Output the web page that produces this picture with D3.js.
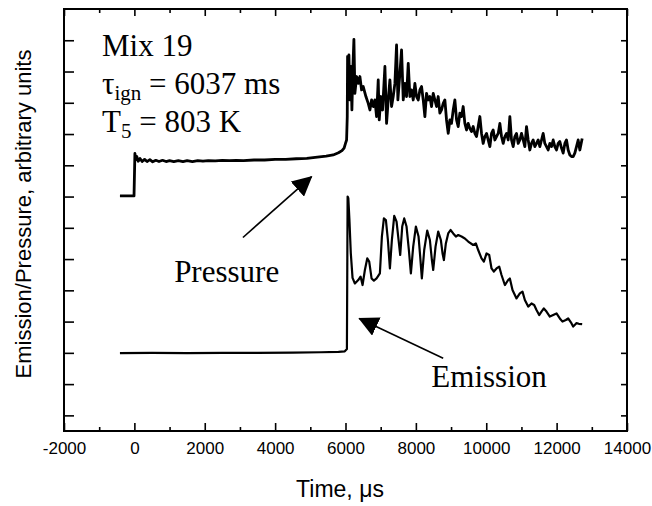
<!DOCTYPE html>
<html>
<head>
<meta charset="utf-8">
<script src="https://cdn.jsdelivr.net/npm/d3@7"></script>
<style>
  html, body { margin: 0; padding: 0; background: #fff; }
  svg { display: block; }
</style>
</head>
<body>
<svg id="chart" width="652" height="506"></svg>
<script>
// ---------- data ----------
const xMajorTicks = [-2000, 0, 2000, 4000, 6000, 8000, 10000, 12000, 14000];
const xMinorTicks = [-1000, 1000, 3000, 5000, 7000, 9000, 11000, 13000];
const yTicks = [0, 1, 2, 3, 4, 5, 6, 7, 8, 9, 10, 11, 12];

const pressureTime = [
  -410, -10, 15, 40, 70, 110, 160, 220, 290, 360, 440, 520, 610, 700, 800, 900, 1000, 1120, 1250, 1380,
  1500, 1650, 1800, 1950, 2100, 2300, 2500, 2700, 2900, 3100, 3400, 3700, 4000, 4300, 4600, 4900, 5200,
  5450, 5650, 5800, 5900, 5960, 6000, 6031, 6050, 6059, 6078, 6097, 6125, 6154, 6182, 6211, 6239, 6267,
  6315, 6362, 6409, 6457, 6504, 6580, 6646, 6694, 6741, 6788, 6836, 6883, 6930, 6959, 7006, 7053, 7120,
  7167, 7214, 7262, 7309, 7356, 7404, 7451, 7489, 7546, 7593, 7641, 7688, 7735, 7783, 7830, 7877, 7925,
  7972, 8019, 8067, 8114, 8161, 8209, 8256, 8303, 8351, 8398, 8445, 8493, 8540, 8587, 8635, 8682, 8729,
  8777, 8824, 8871, 8919, 8966, 9013, 9061, 9108, 9156, 9203, 9250, 9298, 9345, 9392, 9440, 9487, 9534,
  9582, 9629, 9677, 9724, 9771, 9819, 9866, 9913, 9961, 10008, 10055, 10103, 10150, 10197, 10245, 10292,
  10340, 10387, 10434, 10482, 10529, 10576, 10624, 10671, 10718, 10766, 10813, 10860, 10908, 10955, 11002,
  11050, 11097, 11144, 11192, 11239, 11286, 11334, 11381, 11429, 11476, 11523, 11571, 11618, 11665, 11713,
  11760, 11807, 11855, 11902, 11949, 11997, 12044, 12091, 12139, 12186, 12234, 12281, 12328, 12376, 12423,
  12470, 12517, 12565, 12612, 12660, 12726
];
const pressureValue = [
  7.02, 7.02, 8.38, 8.18, 8.28, 8.13, 8.22, 8.12, 8.19, 8.12, 8.18, 8.11, 8.16, 8.12, 8.16, 8.12, 8.15, 8.12, 8.15, 8.12,
  8.15, 8.12, 8.15, 8.13, 8.15, 8.14, 8.16, 8.15, 8.16, 8.15, 8.17, 8.17, 8.19, 8.19, 8.21, 8.22, 8.26,
  8.29, 8.33, 8.40, 8.47, 8.55, 8.70, 8.81, 9.56, 11.48, 10.10, 11.53, 10.09, 11.16, 9.77, 11.16, 12.03, 10.30,
  10.84, 10.62, 10.84, 10.41, 10.52, 10.20, 9.98, 9.77, 10.09, 9.88, 10.09, 9.56, 10.73, 9.45, 10.20, 9.77, 11.16,
  9.34, 10.09, 10.73, 9.88, 10.20, 10.62, 11.85, 10.09, 10.94, 11.69, 10.09, 10.62, 10.20, 11.26, 10.20, 10.41, 10.09,
  10.62, 10.20, 10.09, 10.41, 10.52, 10.09, 9.56, 10.30, 10.09, 10.20, 9.88, 10.30, 10.09, 9.88, 10.20, 9.67, 9.77,
  9.98, 10.09, 9.45, 9.02, 9.45, 9.34, 9.77, 10.09, 9.45, 9.24, 9.67, 9.56, 9.88, 9.34, 9.13, 9.34, 9.18,
  9.08, 9.24, 9.02, 8.92, 9.24, 9.56, 9.02, 8.70, 8.92, 9.02, 8.81, 8.60, 9.02, 9.13, 8.81, 8.92,
  9.02, 9.34, 8.92, 8.70, 8.92, 9.02, 8.81, 9.56, 8.81, 8.60, 8.92, 9.02, 8.70, 8.81, 9.02,
  8.81, 8.60, 9.24, 8.81, 8.49, 8.70, 8.81, 8.60, 8.70, 8.81, 8.60, 8.81, 9.02, 8.70, 8.60,
  8.49, 8.70, 8.60, 8.81, 8.60, 8.49, 8.70, 8.76, 8.55, 8.39, 8.70, 8.81, 8.49, 8.33, 8.28,
  8.28, 8.39, 8.60, 8.81, 8.49, 8.86
];

const emissionTime = [
  -410, 500, 1500, 2500, 3500, 4500, 5300, 5800, 5980, 6040, 6060, 6080, 6110, 6150, 6200, 6267, 6362, 6428,
  6485, 6551, 6618, 6674, 6741, 6807, 6883, 6977, 7034, 7091, 7148, 7205, 7262, 7318, 7385, 7451, 7508, 7555,
  7612, 7669, 7735, 7801, 7858, 7924, 8000, 8076, 8123, 8170, 8237, 8322, 8398, 8455, 8493, 8559, 8635, 8710,
  8758, 8796, 8852, 8919, 8985, 9061, 9137, 9203, 9298, 9392, 9487, 9629, 9705, 9771, 9866, 9932, 10008, 10084,
  10150, 10216, 10292, 10368, 10434, 10529, 10623, 10671, 10746, 10860, 10955, 11030, 11097, 11192, 11286,
  11362, 11428, 11504, 11570, 11636, 11712, 11807, 11902, 11997, 12091, 12167, 12262, 12328, 12420, 12470,
  12520, 12565, 12630, 12726
];
const emissionValue = [
  1.99, 2.00, 1.99, 2.00, 2.00, 2.01, 2.02, 2.03, 2.05, 2.12, 7.00, 6.95, 6.30, 5.20, 4.40, 4.22, 4.33, 4.44,
  4.17, 4.65, 5.02, 4.92, 4.38, 4.31, 4.38, 4.54, 5.72, 6.30, 6.25, 5.61, 4.70, 5.61, 6.38, 6.20, 5.61, 5.13,
  6.04, 6.30, 6.04, 5.29, 4.54, 5.40, 6.04, 5.72, 5.08, 4.38, 5.29, 5.91, 5.61, 4.97, 4.65, 5.40, 5.88, 5.61,
  5.18, 4.97, 5.50, 5.82, 5.93, 5.82, 5.72, 5.77, 5.72, 5.66, 5.56, 5.45, 5.50, 5.29, 5.02, 4.92, 5.18, 5.13,
  4.70, 4.60, 4.70, 4.76, 4.49, 4.17, 4.33, 4.38, 4.01, 3.74, 3.90, 3.96, 3.69, 3.48, 3.58,
  3.53, 3.37, 3.21, 3.32, 3.42, 3.32, 3.16, 3.21, 3.26, 3.10, 3.00, 3.05, 3.10, 2.95, 2.84,
  2.90, 2.95, 2.93, 2.92
];

// annotation texts and arrows (data coordinates)
const infoLines = ["Mix 19", "τ|ign| = 6037 ms", "T|5| = 803 K"];
const pressureArrow = { from: [3085, 5.69], to: [5037, 7.64] };
const emissionArrow = { from: [8776, 1.83], to: [6389, 3.10] };
const pressureLabel = { t: 1130, v: 4.26, text: "Pressure" };
const emissionLabel = { t: 8440, v: 0.92, text: "Emission" };

// ---------- layout ----------
const svg = d3.select("#chart");
const L = 64, R = 627, T = 9, B = 431;
const x = d3.scaleLinear().domain([-2000, 14000]).range([L, R]);
const y = d3.scaleLinear().domain([-0.5, 13]).range([B, T]);

const sans = "'Liberation Sans', Arial, Helvetica, sans-serif";
const serif = "'Liberation Serif', 'Times New Roman', Times, serif";

function styleAxis(g) {
  g.select(".domain").remove();
  g.selectAll(".tick line").attr("stroke", "#000").attr("stroke-width", 1.6);
  g.selectAll(".tick text").attr("font-family", sans).attr("font-size", 17).attr("fill", "#000");
}
svg.append("g").attr("transform", `translate(0,${B})`)
  .call(d3.axisBottom(x).tickValues(xMajorTicks).tickSize(-8).tickPadding(11).tickFormat(d => String(d)))
  .call(styleAxis);
svg.append("g").attr("transform", `translate(0,${B})`)
  .call(d3.axisBottom(x).tickValues(xMinorTicks).tickSize(-4).tickFormat(""))
  .call(styleAxis);
svg.append("g").attr("transform", `translate(0,${T})`)
  .call(d3.axisTop(x).tickValues(xMajorTicks).tickSize(-7).tickFormat(""))
  .call(styleAxis);
svg.append("g").attr("transform", `translate(0,${T})`)
  .call(d3.axisTop(x).tickValues(xMinorTicks).tickSize(-4).tickFormat(""))
  .call(styleAxis);
svg.append("g").attr("transform", `translate(${L},0)`)
  .call(d3.axisLeft(y).tickValues(yTicks).tickSize(-10).tickFormat(""))
  .call(styleAxis);
svg.append("g").attr("transform", `translate(${R},0)`)
  .call(d3.axisRight(y).tickValues(yTicks).tickSize(-6).tickFormat(""))
  .call(styleAxis);

svg.append("rect").attr("x", L).attr("y", T).attr("width", R - L).attr("height", B - T)
  .attr("fill", "none").attr("stroke", "#000").attr("stroke-width", 2);

// curves
const line = d3.line().x(d => x(d[0])).y(d => y(d[1]));
const pressure = pressureTime.map((t, i) => [t, pressureValue[i]]);
const emission = emissionTime.map((t, i) => [t, emissionValue[i]]);

svg.append("path").datum(pressure).attr("d", line)
  .attr("fill", "none").attr("stroke", "#000").attr("stroke-width", 2.8).attr("stroke-linejoin", "round");
svg.append("path").datum(emission).attr("d", line)
  .attr("fill", "none").attr("stroke", "#000").attr("stroke-width", 2.2).attr("stroke-linejoin", "round");

// arrows
svg.append("defs").append("marker")
  .attr("id", "head").attr("viewBox", "0 0 20 20").attr("refX", 19).attr("refY", 10)
  .attr("markerWidth", 20).attr("markerHeight", 20).attr("markerUnits", "userSpaceOnUse")
  .attr("orient", "auto")
  .append("path").attr("d", "M0,0 L20,10 L0,20 Z").attr("fill", "#000");

[pressureArrow, emissionArrow].forEach(a => {
  svg.append("line")
    .attr("x1", x(a.from[0])).attr("y1", y(a.from[1]))
    .attr("x2", x(a.to[0])).attr("y2", y(a.to[1]))
    .attr("stroke", "#000").attr("stroke-width", 1.6)
    .attr("marker-end", "url(#head)");
});

[pressureLabel, emissionLabel].forEach(l => {
  svg.append("text").attr("x", x(l.t)).attr("y", y(l.v))
    .attr("font-family", serif).attr("font-size", 31).attr("fill", "#000").text(l.text);
});

// info block
const infoX = 102, infoY0 = 56, infoDy = 38;
infoLines.forEach((s, i) => {
  const parts = s.split("|");
  const txt = svg.append("text").attr("x", infoX).attr("y", infoY0 + i * infoDy)
    .attr("font-family", serif).attr("font-size", 31).attr("fill", "#000");
  parts.forEach((p, j) => {
    const span = txt.append("tspan").text(p);
    if (j % 2 === 1) span.attr("font-size", 21).attr("dy", 6);
    else if (j > 0) span.attr("dy", -6);
  });
});

// axis titles
svg.append("text").attr("x", 340).attr("y", 497).attr("text-anchor", "middle")
  .attr("font-family", sans).attr("font-size", 23).attr("fill", "#000").text("Time, μs");
svg.append("text").attr("transform", "translate(31,214) rotate(-90)").attr("text-anchor", "middle")
  .attr("font-family", sans).attr("font-size", 22).attr("fill", "#000")
  .text("Emission/Pressure, arbitrary units");
</script>
</body>
</html>
